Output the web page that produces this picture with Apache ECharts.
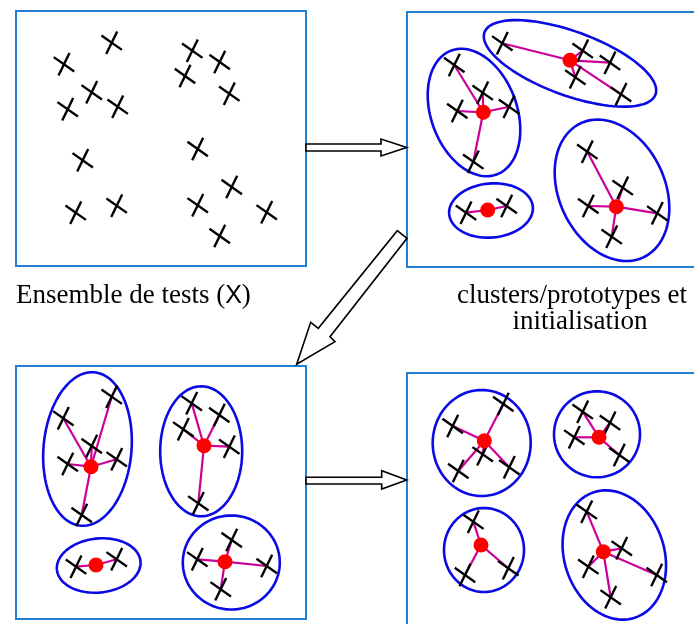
<!DOCTYPE html>
<html><head><meta charset="utf-8">
<script src="https://cdn.jsdelivr.net/npm/echarts@6/dist/echarts.min.js"></script>
<style>html,body{margin:0;padding:0;background:#fff}#c{width:694px;height:624px}</style>
</head><body><div id="c"></div>
<script>
// ---- diagram data (diagram units = pixels of the 694x624 canvas) ----
const panels = [[16,11,306,266],[407,12,700,267],[16,366,306,619],[407,373,700,630]];

const testSet = [[111.7,42.7],[64,64.3],[91.7,92.3],[67.7,109.3],[117.7,106.7],[82.7,160.3],
  [75.7,212.7],[116.7,205.7],[192.3,50.7],[219.7,62],[185,76],[229.3,93.7],[197.7,149],
  [231.7,187],[197.7,205.3],[266.7,212.3],[219.7,236]];

const p2Centroids = [[483.3,112.3],[570,60.3],[487.7,210],[616.3,206.7]];
const p2Members = [[454.3,65,0],[482.7,92.7,0],[457.3,111,0],[509,106.7,0],[473.3,161.7,0],
  [502.3,43.3,1],[582.7,50.7,1],[610,62.7,1],[575.3,77.3,1],[621,94.3,1],
  [466,212.7,2],[506.7,206,2],
  [587.3,151.7,3],[622.7,187.7,3],[588.3,206,3],[657.3,213.3,3],[611.7,236.7,3]];
const p2Ellipses = [[474,112.5,43,66,-20],[570,63.4,91,32,20],[491,210.5,42,27,-5],[612,190.3,53,74,-25]];

const p3Centroids = [[91,466.7],[204,445.7],[96,565],[225,561.7]];
const p3Members = [[111.7,396.7,0],[63.3,418.3,0],[91.7,446,0],[67.7,464,0],[116.7,459.3,0],[81.7,515,0],
  [191.7,403.3,1],[219.3,415,1],[183.3,429.3,1],[229.3,446.7,1],[198.3,503.3,1],
  [76,566.7,2],[116.7,559.3,2],
  [231.7,540,3],[197.3,559.3,3],[266.7,566,3],[220.7,589.3,3]];
const p3Ellipses = [[87.5,449,44,77,5],[201.2,451.3,41,65,0],[98.7,565.5,42,27,-6],[231.3,562.5,48.5,47,0]];

const p4Centroids = [[484.3,440.7],[599,437.3],[481,545],[603.3,551.7]];
const p4Members = [[503.3,404,0],[452.7,426,0],[482.7,454.3,0],[458.3,471,0],[509.3,467.3,0],
  [582.7,411.7,1],[610,422.7,1],[574.3,437.3,1],[619.3,455,1],
  [473.3,521.7,2],[508.3,568.3,2],[465,575,2],
  [586.7,511.7,3],[621.7,548.3,3],[588.3,566.7,3],[656.7,575,3],[610.7,597.3,3]];
const p4Ellipses = [[481.7,443,49,53,0],[597,434.3,43,43,0],[484,550,40,42,0],[614.3,555,50,66,-18]];

const arrows = [
  [[306,144],[381,144],[381,139],[406.7,147.5],[381,156],[381,151],[306,151]],
  [[397.3,230.7],[407,238.3],[330,336.7],[335,341.7],[296.7,364.3],[310.7,322.3],[318.3,328.3]],
  [[306,477.3],[381.7,477.3],[381.7,470.7],[406.7,480],[381.7,489],[381.7,484],[306,484]]
];

const captionLeft = ['Ensemble de tests (', 'X', ')'];
const captionRight = ['clusters/prototypes et', 'initialisation'];

// ---- derived ----
const allX = testSet.concat(p2Members.map(m=>[m[0],m[1]]), p3Members.map(m=>[m[0],m[1]]), p4Members.map(m=>[m[0],m[1]]));
const allDots = p2Centroids.concat(p3Centroids, p4Centroids);
const allEll = p2Ellipses.concat(p3Ellipses, p4Ellipses);
function links(cs, ms){ return ms.map(m=>[cs[m[2]][0], cs[m[2]][1], m[0], m[1]]); }
const allLinks = links(p2Centroids,p2Members).concat(links(p3Centroids,p3Members), links(p4Centroids,p4Members));

const chart = echarts.init(document.getElementById('c'), null, {renderer:'canvas'});
chart.setOption({
  animation:false,
  backgroundColor:'#ffffff',
  grid:{left:0,right:0,top:0,bottom:0},
  xAxis:{type:'value',min:0,max:694,show:false},
  yAxis:{type:'value',min:0,max:624,inverse:true,show:false},
  series:[
    { type:'custom', z:1, clip:false, data:panels,
      renderItem:(p,api)=>{
        const a=api.coord([api.value(0),api.value(1)]), b=api.coord([api.value(2),api.value(3)]);
        return {type:'rect', shape:{x:a[0],y:a[1],width:b[0]-a[0],height:b[1]-a[1]},
          style:{fill:'#fff',stroke:'#2280d2',lineWidth:2}};
      }},
    { type:'custom', z:1, clip:false, data:arrows.map((_,i)=>[i,0]),
      renderItem:(p,api)=>{
        const pts=arrows[api.value(0)].map(q=>api.coord(q));
        return {type:'polygon', shape:{points:pts}, style:{fill:'#fff',stroke:'#000',lineWidth:1.6}};
      }},
    { type:'custom', z:2, clip:false, data:allEll,
      renderItem:(p,api)=>{
        const cx=api.value(0),cy=api.value(1),rx=api.value(2),ry=api.value(3),ph=api.value(4)*Math.PI/180;
        const pts=[];
        for(let k=0;k<96;k++){const t=k/96*2*Math.PI;const X=rx*Math.cos(t),Y=ry*Math.sin(t);
          pts.push(api.coord([cx+X*Math.cos(ph)-Y*Math.sin(ph), cy+X*Math.sin(ph)+Y*Math.cos(ph)]));}
        return {type:'polygon', shape:{points:pts}, style:{fill:'none',stroke:'#0a0ae6',lineWidth:2.6}};
      }},
    { type:'custom', z:3, clip:false, data:allLinks,
      renderItem:(p,api)=>{
        const a=api.coord([api.value(0),api.value(1)]), b=api.coord([api.value(2),api.value(3)]);
        return {type:'line', shape:{x1:a[0],y1:a[1],x2:b[0],y2:b[1]}, style:{stroke:'#cc0099',lineWidth:2.2}};
      }},
    { type:'custom', z:4, clip:false, data:allX,
      renderItem:(p,api)=>{
        const c=api.coord([api.value(0),api.value(1)]);
        const L=12.5, a1=35*Math.PI/180, a2=116*Math.PI/180;
        const mk=(a)=>({type:'line', shape:{x1:c[0]-L*Math.cos(a),y1:c[1]-L*Math.sin(a),x2:c[0]+L*Math.cos(a),y2:c[1]+L*Math.sin(a)},
          style:{stroke:'#000',lineWidth:2.4}});
        return {type:'group', children:[mk(a1),mk(a2)]};
      }},
    { type:'scatter', z:5, data:allDots, symbol:'circle', symbolSize:15,
      itemStyle:{color:'#ff0000',opacity:1}, silent:true }
  ],
  graphic:[
    {type:'text', x:16, y:296, z:10, style:{
      text:captionLeft[0]+'{s|'+captionLeft[1]+'}'+captionLeft[2],
      fontFamily:'Liberation Serif', fontSize:27, fill:'#000', textAlign:'left', verticalAlign:'middle',
      rich:{s:{fontFamily:'Liberation Sans',fontSize:25,fill:'#000'}}}},
    {type:'text', x:572, y:296, z:10, style:{text:captionRight[0], fontFamily:'Liberation Serif', fontSize:27,
      fill:'#000', textAlign:'center', verticalAlign:'middle'}},
    {type:'text', x:580, y:322, z:10, style:{text:captionRight[1], fontFamily:'Liberation Serif', fontSize:27,
      fill:'#000', textAlign:'center', verticalAlign:'middle'}}
  ]
});
</script></body></html>
